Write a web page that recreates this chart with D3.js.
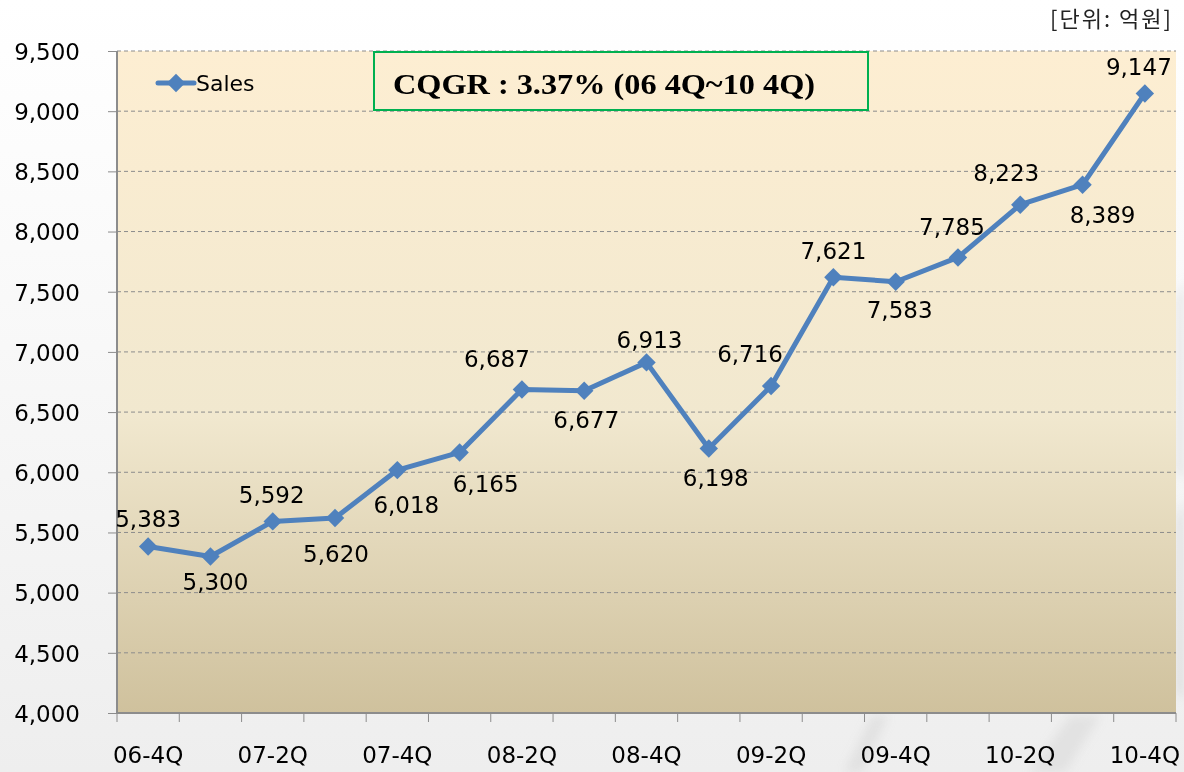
<!DOCTYPE html>
<html>
<head>
<meta charset="utf-8">
<script src="https://cdn.jsdelivr.net/npm/d3@7"></script>
<style>
  body { margin: 0; background: #fff; }
  text { font-family: "DejaVu Sans", sans-serif; fill: #000; }
</style>
</head>
<body>
<div id="chart"></div>
<script>
// 분기 목록
var quarters = ['06-4Q', '07-1Q', '07-2Q', '07-3Q', '07-4Q', '08-1Q', '08-2Q', '08-3Q',
                '08-4Q', '09-1Q', '09-2Q', '09-3Q', '09-4Q', '10-1Q', '10-2Q', '10-3Q', '10-4Q'];
// 매출 (억원)
var sales = [5383, 5300, 5592, 5620, 6018, 6165, 6687, 6677, 6913, 6198, 6716, 7621, 7583, 7785, 8223, 8389, 9147];
// y축 눈금
var yTicks = [4000, 4500, 5000, 5500, 6000, 6500, 7000, 7500, 8000, 8500, 9000, 9500];
// x축 라벨 (격분기)
var xLabels = ['06-4Q', '07-2Q', '07-4Q', '08-2Q', '08-4Q', '09-2Q', '09-4Q', '10-2Q', '10-4Q'];

var width = 1184, height = 772,
    pLeft = 117, pRight = 1176, pTop = 51, pBottom = 713;

// 라벨 위치 이동 (점 기준)
var labelDx = [0, 5, -1, 1, 9, 26, -25, 2, 3, 7, -21, 0, 4, -6, -14, 20, -6];
var labelDy = [-20, 33, -18, 44, 43, 40, -23, 37, -14, 38, -24, -18, 36, -22, -24, 38, -18];

var svg = d3.select('#chart').append('svg')
    .attr('width', width)
    .attr('height', height);

var defs = svg.append('defs');

// 바깥 배경
var bg = defs.append('linearGradient').attr('id', 'bg')
    .attr('x1', 0).attr('y1', 0).attr('x2', 0).attr('y2', 1);
bg.append('stop').attr('offset', '0%').attr('stop-color', '#ffffff');
bg.append('stop').attr('offset', '45%').attr('stop-color', '#f8f8f8');
bg.append('stop').attr('offset', '100%').attr('stop-color', '#eeeeee');

var blur = defs.append('filter').attr('id', 'blur');
blur.append('feGaussianBlur').attr('stdDeviation', 5);

// 플롯 영역 그라데이션
var plotGrad = defs.append('linearGradient').attr('id', 'plotbg')
    .attr('x1', 0).attr('y1', 0).attr('x2', 0).attr('y2', 1);
plotGrad.append('stop').attr('offset', '0%').attr('stop-color', '#fdeed2');
plotGrad.append('stop').attr('offset', '55%').attr('stop-color', '#f1e8cf');
plotGrad.append('stop').attr('offset', '100%').attr('stop-color', '#cfc19d');

svg.append('rect').attr('width', width).attr('height', height).attr('fill', 'url(#bg)');

// 오른쪽 아래 배경 무늬
var streaks = svg.append('g').attr('filter', 'url(#blur)');
streaks.append('path').attr('d', 'M1176,300 L1184,280 L1184,480 L1176,470 Z').attr('fill', '#d6d6d6').attr('opacity', 0.5);
streaks.append('path').attr('d', 'M845,772 L872,716 L888,716 L862,772 Z').attr('fill', '#c8c8c8').attr('opacity', 0.35);
streaks.append('path').attr('d', 'M1030,772 L1070,716 L1100,716 L1065,772 Z').attr('fill', '#cccccc').attr('opacity', 0.35);
streaks.append('path').attr('d', 'M1176,520 L1184,500 L1184,700 L1176,690 Z').attr('fill', '#c4c4c4').attr('opacity', 0.4);

svg.append('rect')
    .attr('x', pLeft).attr('y', pTop)
    .attr('width', pRight - pLeft).attr('height', pBottom - pTop)
    .attr('fill', 'url(#plotbg)');

var x = d3.scaleBand().domain(quarters).range([pLeft, pRight]);
var y = d3.scaleLinear().domain([4000, 9500]).range([pBottom, pTop]);

// 격자선
svg.append('g').selectAll('line')
    .data(yTicks.slice(1))
    .enter().append('line')
    .attr('x1', pLeft).attr('x2', pRight)
    .attr('y1', function (d) { return y(d); })
    .attr('y2', function (d) { return y(d); })
    .attr('stroke', '#8c8c8c')
    .attr('stroke-width', 1)
    .attr('stroke-dasharray', '4,3');

// y축
var yAxis = svg.append('g')
    .attr('transform', 'translate(' + pLeft + ',0)')
    .call(d3.axisLeft(y).tickValues(yTicks).tickSize(9).tickPadding(28)
        .tickFormat(d3.format(',')));
yAxis.selectAll('text').style('font-size', '23px').attr('dy', '0.36em');
yAxis.selectAll('line').attr('stroke', '#8c8c8c');
yAxis.select('.domain').attr('stroke', '#8c8c8c').attr('stroke-width', 2)
    .attr('d', 'M0,' + pBottom + 'V' + pTop);

// x축
var xAxis = svg.append('g')
    .attr('transform', 'translate(0,' + pBottom + ')')
    .call(d3.axisBottom(x).tickSize(0).tickPadding(34)
        .tickFormat(function (d) { return xLabels.indexOf(d) >= 0 ? d : ''; }));
xAxis.selectAll('text').style('font-size', '23px');
xAxis.select('.domain').attr('stroke', '#8c8c8c').attr('stroke-width', 2)
    .attr('d', 'M' + pLeft + ',0H' + pRight);

// x축 눈금 (구간 경계)
svg.append('g').selectAll('line')
    .data(quarters.concat(['end']))
    .enter().append('line')
    .attr('x1', function (d, i) { return i < quarters.length ? x(d) : pRight; })
    .attr('x2', function (d, i) { return i < quarters.length ? x(d) : pRight; })
    .attr('y1', pBottom).attr('y2', pBottom + 9)
    .attr('stroke', '#8c8c8c').attr('stroke-width', 1);

var cx = function (d, i) { return x(quarters[i]) + x.bandwidth() / 2; };

// 선
var line = d3.line()
    .x(function (d, i) { return cx(d, i); })
    .y(function (d) { return y(d); });

svg.append('path')
    .datum(sales)
    .attr('d', line)
    .attr('fill', 'none')
    .attr('stroke', '#4f81bd')
    .attr('stroke-width', 5)
    .attr('stroke-linejoin', 'round');

// 마커
var diamond = d3.symbol().type(d3.symbolSquare).size(170);
svg.append('g').selectAll('path')
    .data(sales)
    .enter().append('path')
    .attr('d', diamond)
    .attr('transform', function (d, i) { return 'translate(' + cx(d, i) + ',' + y(d) + ') rotate(45)'; })
    .attr('fill', '#4f81bd');

// 데이터 라벨
svg.append('g').selectAll('text')
    .data(sales)
    .enter().append('text')
    .attr('x', function (d, i) { return cx(d, i) + labelDx[i]; })
    .attr('y', function (d, i) { return y(d) + labelDy[i]; })
    .attr('text-anchor', 'middle')
    .style('font-size', '23px')
    .text(function (d) { return d3.format(',')(d); });

// 범례
var legend = svg.append('g').attr('transform', 'translate(158,83)');
legend.append('line').attr('x1', 0).attr('x2', 36).attr('stroke', '#4f81bd')
    .attr('stroke-width', 5).attr('stroke-linecap', 'round');
legend.append('path').attr('d', diamond).attr('transform', 'translate(18,0) rotate(45)').attr('fill', '#4f81bd');
legend.append('text').attr('x', 38).attr('y', 8).style('font-size', '22px').text('Sales');

// CQGR 상자
svg.append('rect')
    .attr('x', 374).attr('y', 52).attr('width', 494).attr('height', 58)
    .attr('fill', 'none').attr('stroke', '#00b050').attr('stroke-width', 2);
svg.append('text')
    .attr('x', 393).attr('y', 94)
    .attr('textLength', 422)
    .attr('lengthAdjust', 'spacingAndGlyphs')
    .style('font-family', '"Liberation Serif", serif')
    .style('font-weight', 'bold')
    .style('font-size', '30px')
    .text('CQGR : 3.37% (06 4Q~10 4Q)');

// 단위
svg.append('text')
    .attr('x', 1173).attr('y', 27)
    .attr('text-anchor', 'end')
    .style('font-family', '"Noto Sans CJK KR", sans-serif')
    .style('font-size', '22px')
    .style('letter-spacing', '2px')
    .style('fill', '#222')
    .text('[단위: 억원]');
</script>
</body>
</html>
